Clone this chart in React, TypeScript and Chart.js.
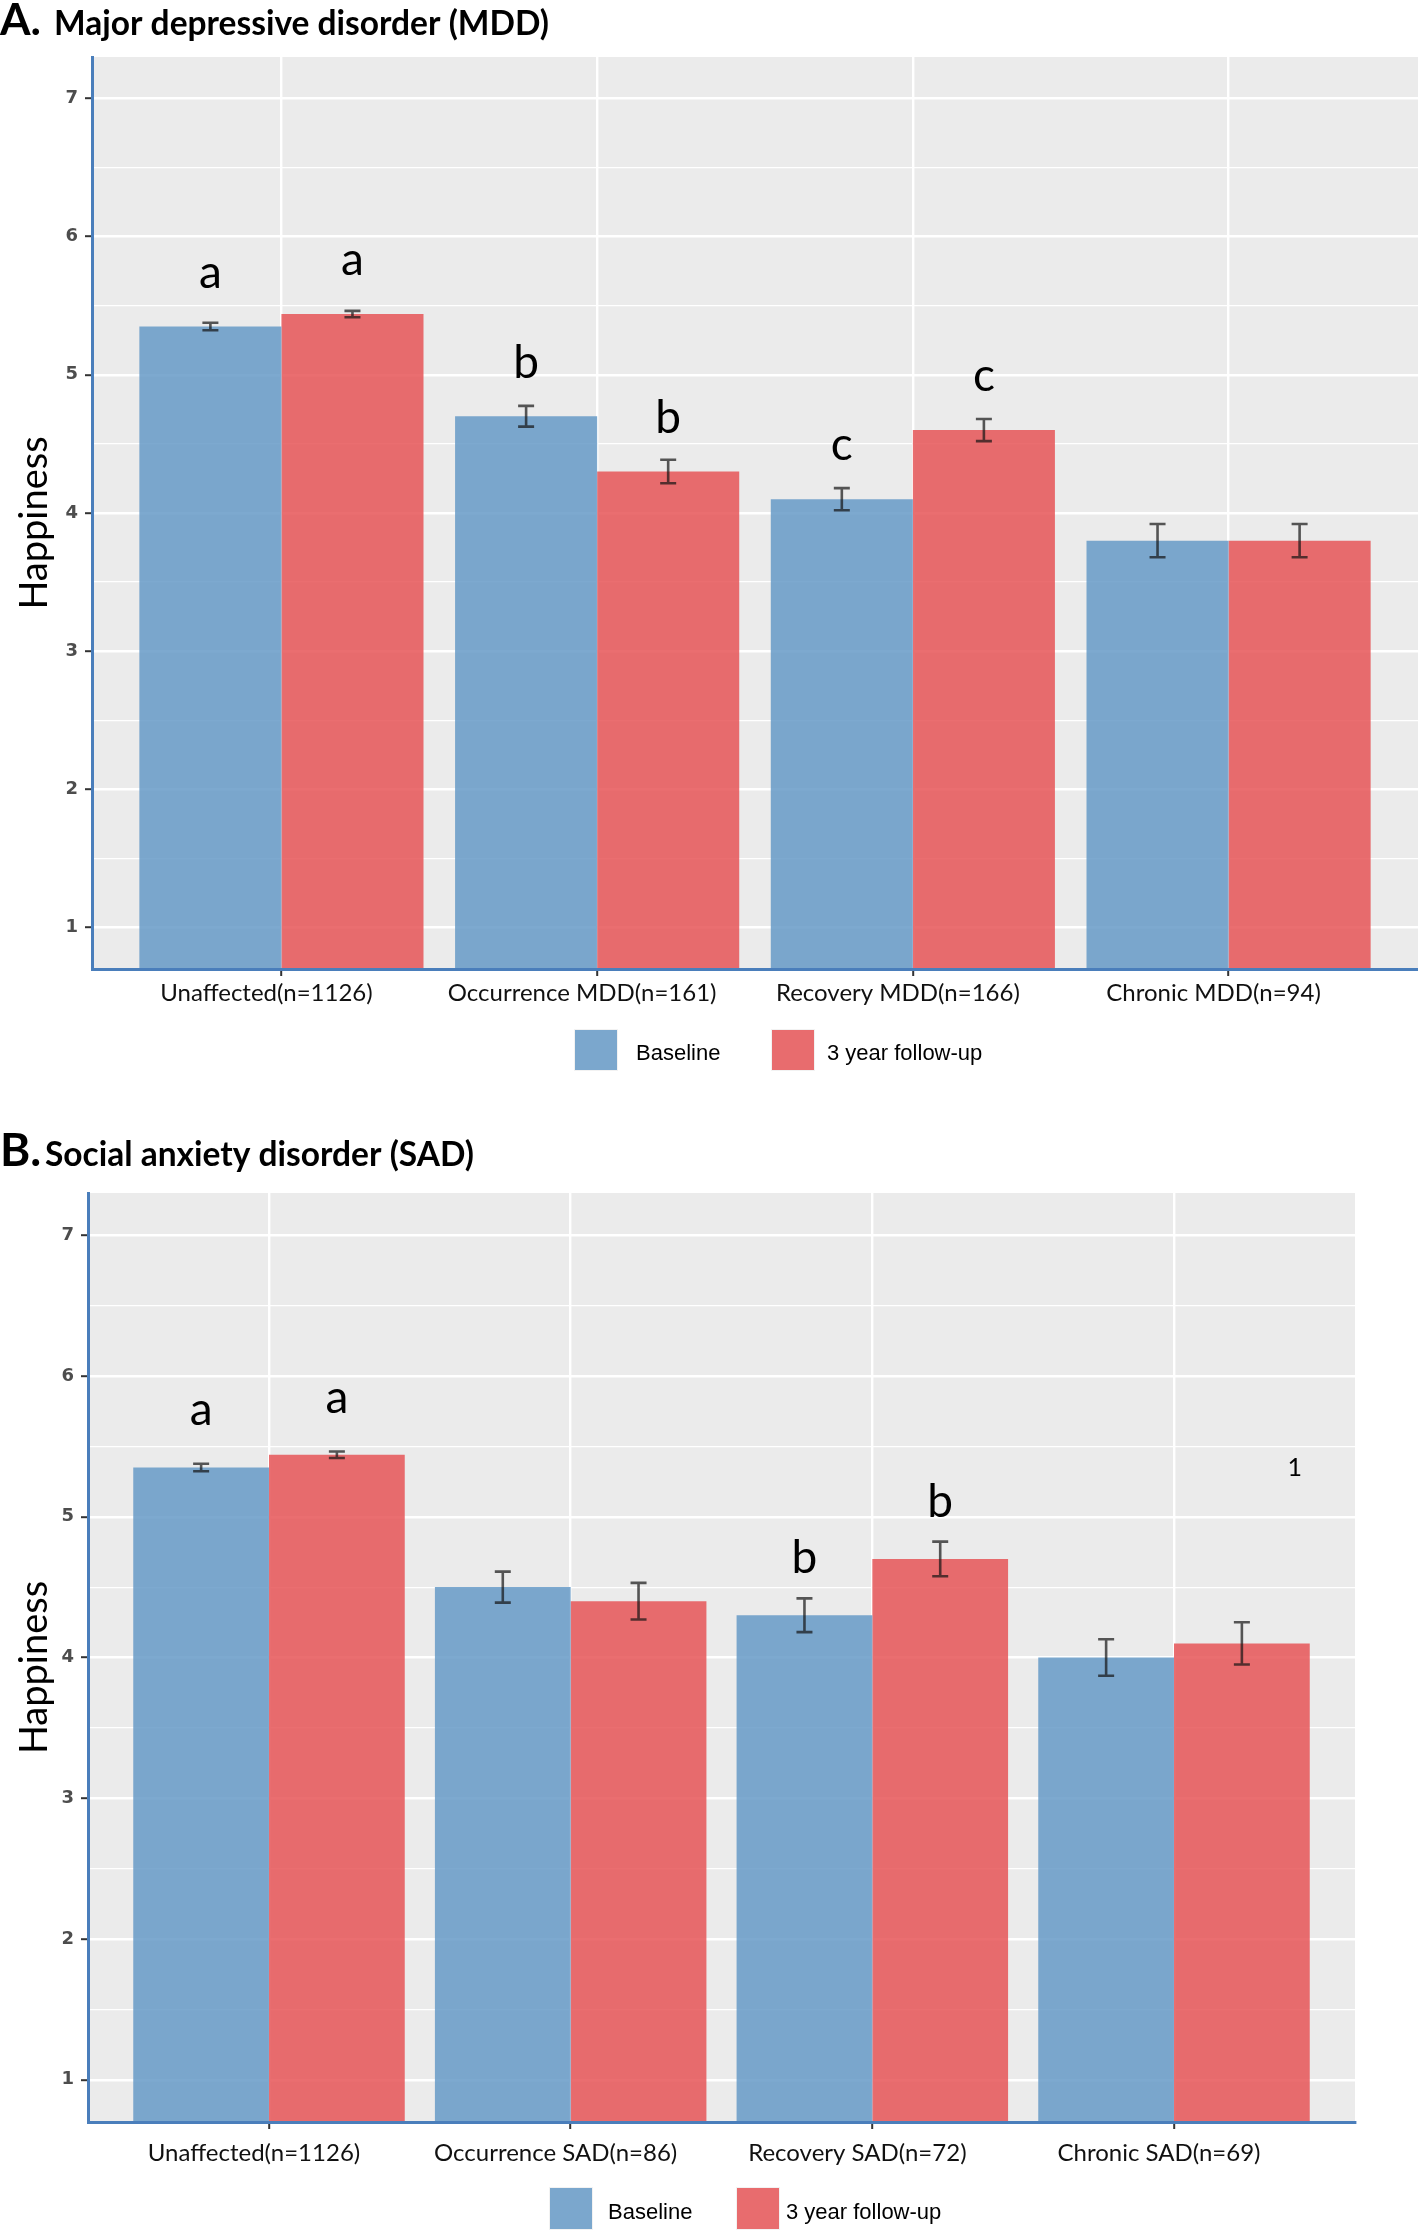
import React, { useEffect, useRef } from 'react';
import { Chart, registerables } from 'chart.js';

Chart.register(...registerables);

// ---------------- DATA ----------------
const seriesNames = ['Baseline', '3 year follow-up'];

const categoriesA = ['Unaffected(n=1126)', 'Occurrence MDD(n=161)', 'Recovery MDD(n=166)', 'Chronic MDD(n=94)'];
const baselineA = [5.35, 4.70, 4.10, 3.80];
const followupA = [5.44, 4.30, 4.60, 3.80];
const baselineErrA = [0.027, 0.075, 0.08, 0.12];
const followupErrA = [0.023, 0.085, 0.08, 0.12];
const baselineLettersA = ['a', 'b', 'c', ''];
const followupLettersA = ['a', 'b', 'c', ''];

const categoriesB = ['Unaffected(n=1126)', 'Occurrence SAD(n=86)', 'Recovery SAD(n=72)', 'Chronic SAD(n=69)'];
const baselineB = [5.35, 4.50, 4.30, 4.00];
const followupB = [5.44, 4.40, 4.70, 4.10];
const baselineErrB = [0.027, 0.11, 0.12, 0.13];
const followupErrB = [0.023, 0.13, 0.123, 0.15];
const baselineLettersB = ['a', '', 'b', ''];
const followupLettersB = ['a', '', 'b', ''];
const strayLabelB = { text: '1', x: 4.4, y: 5.29 };

const majorYTicks = [1, 2, 3, 4, 5, 6, 7];
const minorYTicks = [1.5, 2.5, 3.5, 4.5, 5.5, 6.5];
const yAxisTitle = 'Happiness';

// ---------------- STYLE ----------------
const W = 1418;
const BLUE = 'rgba(104,155,199,0.86)';
const RED = 'rgba(230,86,88,0.86)';
const PANEL_BG = '#EBEBEB';
const AXIS_COLOR = '#4a7ebb';
const X_LABEL_SHIFT = -15;

type PanelCfg = {
  top: number;
  height: number;
  area: { left: number; top: number; right: number; bottom: number };
  titleLetter: string;
  titleText: string;
  letterSize: number;
  titleBaseline: number;
  titleTextX: number;
  categories: string[];
  baseline: number[];
  followup: number[];
  baseErr: number[];
  followErr: number[];
  baseLetters: string[];
  followLetters: string[];
  letterOffset: number;
  xLabelY: number;
  legend: { y: number; h: number; box1: number; text1: number; box2: number; text2: number; bw: number };
  stray?: { text: string; x: number; y: number };
};

const panels: PanelCfg[] = [
  {
    top: 0,
    height: 1095,
    area: { left: 92, top: 57, right: 1418, bottom: 969 },
    titleLetter: 'A.',
    titleText: 'Major depressive disorder (MDD)',
    letterSize: 44,
    titleBaseline: 35,
    titleTextX: 54,
    categories: categoriesA,
    baseline: baselineA,
    followup: followupA,
    baseErr: baselineErrA,
    followErr: followupErrA,
    baseLetters: baselineLettersA,
    followLetters: followupLettersA,
    letterOffset: 0.28,
    xLabelY: 993,
    legend: { y: 1030, h: 40, box1: 575, text1: 636, box2: 772, text2: 827, bw: 42 },
  },
  {
    top: 1100,
    height: 1131,
    area: { left: 88, top: 93, right: 1355, bottom: 1022 },
    titleLetter: 'B.',
    titleText: 'Social anxiety disorder (SAD)',
    letterSize: 46,
    titleBaseline: 66,
    titleTextX: 45,
    categories: categoriesB,
    baseline: baselineB,
    followup: followupB,
    baseErr: baselineErrB,
    followErr: followupErrB,
    baseLetters: baselineLettersB,
    followLetters: followupLettersB,
    letterOffset: 0.3,
    xLabelY: 1053,
    legend: { y: 1088, h: 41, box1: 550, text1: 608, box2: 737, text2: 786, bw: 42 },
    stray: strayLabelB,
  },
];

function makePlugin(cfg: PanelCfg) {
  return {
    id: 'ggDecor',
    beforeDraw(chart: any) {
      const { ctx, chartArea: a } = chart;
      ctx.save();
      ctx.fillStyle = '#ffffff';
      ctx.fillRect(0, 0, chart.width, chart.height);
      ctx.fillStyle = PANEL_BG;
      ctx.fillRect(a.left, a.top, a.right - a.left, a.bottom - a.top);
      ctx.restore();
    },
    afterDatasetsDraw(chart: any) {
      const { ctx } = chart;
      const yScale = chart.scales.y;
      const xScale = chart.scales.x;
      const sets = [
        { vals: cfg.baseline, errs: cfg.baseErr, letters: cfg.baseLetters },
        { vals: cfg.followup, errs: cfg.followErr, letters: cfg.followLetters },
      ];
      ctx.save();
      sets.forEach((s, d) => {
        const meta = chart.getDatasetMeta(d);
        meta.data.forEach((el: any, i: number) => {
          const x = el.x;
          const yt = yScale.getPixelForValue(s.vals[i] + s.errs[i]);
          const yb = yScale.getPixelForValue(s.vals[i] - s.errs[i]);
          ctx.strokeStyle = 'rgba(20,20,20,0.7)';
          ctx.lineWidth = 2.6;
          ctx.beginPath();
          ctx.moveTo(x, yt);
          ctx.lineTo(x, yb);
          ctx.moveTo(x - 8, yt);
          ctx.lineTo(x + 8, yt);
          ctx.moveTo(x - 8, yb);
          ctx.lineTo(x + 8, yb);
          ctx.stroke();
          const letter = s.letters[i];
          if (letter) {
            ctx.fillStyle = '#000';
            ctx.font = '46px Lato';
            ctx.textAlign = 'center';
            ctx.textBaseline = 'alphabetic';
            ctx.fillText(letter, x, yScale.getPixelForValue(s.vals[i] + cfg.letterOffset));
          }
        });
      });
      if (cfg.stray) {
        ctx.fillStyle = '#000';
        ctx.font = '25px Lato';
        ctx.textAlign = 'center';
        ctx.textBaseline = 'alphabetic';
        ctx.fillText(cfg.stray.text, xScale.getPixelForValue(cfg.stray.x), yScale.getPixelForValue(cfg.stray.y));
      }
      ctx.restore();
    },
    afterDraw(chart: any) {
      const { ctx, chartArea: a } = chart;
      const xScale = chart.scales.x;
      ctx.save();
      // Category labels on the x axis
      ctx.fillStyle = '#111111';
      ctx.font = '24px Lato';
      ctx.textAlign = 'center';
      ctx.textBaseline = 'middle';
      cfg.categories.forEach((c, i) => {
        ctx.fillText(c, xScale.getPixelForValue(i + 1) + X_LABEL_SHIFT, cfg.xLabelY);
      });
      // Title
      ctx.fillStyle = '#000';
      ctx.textAlign = 'left';
      ctx.textBaseline = 'alphabetic';
      ctx.font = `bold ${cfg.letterSize}px Lato`;
      ctx.fillText(cfg.titleLetter, 0, cfg.titleBaseline);
      ctx.font = 'bold 33.5px Lato';
      ctx.fillText(cfg.titleText, cfg.titleTextX, cfg.titleBaseline);
      // Y axis title
      ctx.save();
      ctx.translate(47, (a.top + a.bottom) / 2 + 10);
      ctx.rotate(-Math.PI / 2);
      ctx.textAlign = 'center';
      ctx.textBaseline = 'alphabetic';
      ctx.font = '38px Lato';
      ctx.fillText(yAxisTitle, 0, 0);
      ctx.restore();
      // Legend
      const L = cfg.legend;
      const cols = [BLUE, RED];
      const boxes = [L.box1, L.box2];
      const texts = [L.text1, L.text2];
      for (let k = 0; k < 2; k++) {
        ctx.fillStyle = '#F2F2F2';
        ctx.fillRect(boxes[k] - 1, L.y - 1, L.bw + 2, L.h + 2);
        ctx.fillStyle = cols[k];
        ctx.fillRect(boxes[k], L.y, L.bw, L.h);
        ctx.fillStyle = '#000';
        ctx.font = '22px "Liberation Sans", Arial, sans-serif';
        ctx.textAlign = 'left';
        ctx.textBaseline = 'middle';
        ctx.fillText(seriesNames[k], texts[k], L.y + L.h / 2 + 4);
      }
      ctx.restore();
    },
  };
}

function Panel({ cfg }: { cfg: PanelCfg }) {
  const ref = useRef<HTMLCanvasElement>(null);
  useEffect(() => {
    const canvas = ref.current!;
    const a = cfg.area;
    const chart = new Chart(canvas, {
      type: 'bar',
      data: {
        datasets: [
          {
            label: seriesNames[0],
            data: cfg.baseline.map((v, i) => ({ x: i + 1, y: v })),
            backgroundColor: BLUE,
            borderWidth: 0,
            categoryPercentage: 0.9,
            barPercentage: 1.0,
          },
          {
            label: seriesNames[1],
            data: cfg.followup.map((v, i) => ({ x: i + 1, y: v })),
            backgroundColor: RED,
            borderWidth: 0,
            categoryPercentage: 0.9,
            barPercentage: 1.0,
          },
        ],
      } as any,
      options: {
        responsive: false,
        maintainAspectRatio: false,
        animation: false,
        devicePixelRatio: 1,
        events: [],
        layout: { padding: { left: 0, top: a.top, right: W - a.right, bottom: 0 } },
        plugins: {
          legend: { display: false },
          tooltip: { enabled: false },
          title: { display: false },
        },
        scales: {
          x: {
            type: 'linear',
            min: 0.4,
            max: 4.6,
            offset: false,
            afterBuildTicks: (s: any) => {
              s.ticks = cfg.categories.map((_, i) => ({ value: i + 1 }));
            },
            afterFit: (s: any) => {
              s.height = cfg.height - a.bottom;
            },
            grid: {
              offset: false,
              color: '#ffffff',
              lineWidth: 2.4,
              tickColor: '#333333',
              tickWidth: 2,
              tickLength: 7,
            },
            border: { display: true, color: AXIS_COLOR, width: 3, z: 1 },
            ticks: {
              autoSkip: false,
              maxRotation: 0,
              minRotation: 0,
              color: 'rgba(0,0,0,0)',
              font: { family: 'Lato', size: 24 },
              callback: (v: any) => cfg.categories[Math.round(Number(v)) - 1] ?? '',
            },
          },
          y: {
            type: 'linear',
            min: 0.7,
            max: 7.3,
            afterBuildTicks: (s: any) => {
              s.ticks = [...majorYTicks, ...minorYTicks].sort((p, q) => p - q).map((v) => ({ value: v }));
            },
            afterFit: (s: any) => {
              s.width = a.left;
            },
            grid: {
              color: '#ffffff',
              lineWidth: (c: any) => (c.tick && Number.isInteger(c.tick.value) ? 2.4 : 1.2),
              tickColor: (c: any) => (c.tick && Number.isInteger(c.tick.value) ? '#333333' : 'rgba(0,0,0,0)'),
              tickWidth: 2,
              tickLength: 7,
            },
            border: { display: true, color: AXIS_COLOR, width: 3, z: 1 },
            ticks: {
              padding: 7,
              color: '#4d4d4d',
              font: { family: '"DejaVu Sans"', size: 18, weight: 'bold' },
              callback: (v: any) => (Number.isInteger(Number(v)) ? String(v) : ''),
            },
          },
        },
      } as any,
      plugins: [makePlugin(cfg)],
    });
    return () => chart.destroy();
  }, []);
  return (
    <canvas
      ref={ref}
      width={W}
      height={cfg.height}
      style={{ position: 'absolute', left: 0, top: cfg.top, width: W, height: cfg.height, display: 'block' }}
    />
  );
}

export default function App() {
  return (
    <div style={{ position: 'absolute', left: 0, top: 0, width: W, height: 2231, background: '#fff', overflow: 'hidden' }}>
      {panels.map((p, i) => (
        <Panel key={i} cfg={p} />
      ))}
    </div>
  );
}
